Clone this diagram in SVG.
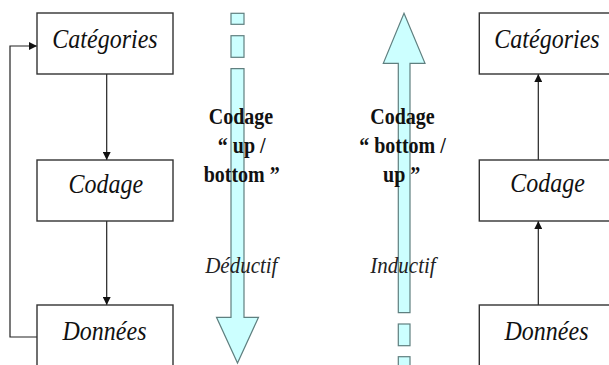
<svg xmlns="http://www.w3.org/2000/svg" width="609" height="365" viewBox="0 0 609 365">
<style>
.box{fill:#fff;stroke:#333;stroke-width:1.4}
text{font-family:'Liberation Serif','DejaVu Serif',serif}
.lbl{font-style:italic;font-size:24px;fill:#111;text-anchor:middle}
.bold{font-weight:bold;font-size:20px;fill:#111;text-anchor:middle}
.ital{font-style:italic;font-size:21px;fill:#222;text-anchor:middle}
.cyan{fill:#ccffff;stroke:#5f7f7f;stroke-width:1.2}
.line{fill:none;stroke:#222;stroke-width:1.2}
</style>
<defs>
<marker id="ah" markerWidth="8" markerHeight="8" refX="8" refY="4" orient="auto" markerUnits="userSpaceOnUse">
<path d="M0,0 L8,4 L0,8 Z" fill="#111"/>
</marker>
</defs>
<rect width="609" height="365" fill="#fff"/>
<g id="big-arrows">
<g id="down-arrow">
<rect class="cyan" x="231" y="13.3" width="13" height="11"/>
<rect class="cyan" x="231" y="35.7" width="13" height="21.6"/>
<path class="cyan" d="M231,68.7 H244 V317.3 H258.5 L237.5,363 L216.5,317.3 H231 Z"/>
</g>
<g id="up-arrow">
<path class="cyan" d="M404,13.3 L425,63.3 H410 V312.7 H398.3 V63.3 H383.3 Z"/>
<rect class="cyan" x="398.3" y="324" width="11.7" height="21.7"/>
<rect class="cyan" x="398.3" y="356.7" width="11.7" height="21.7"/>
</g>
</g>
<g id="connectors">
<line class="line" x1="106.7" y1="74" x2="106.7" y2="160" marker-end="url(#ah)"/>
<line class="line" x1="106.7" y1="221" x2="106.7" y2="305" marker-end="url(#ah)"/>
<polyline class="line" points="37,337 10,337 10,46 37,46" marker-end="url(#ah)"/>
<line class="line" x1="538.3" y1="305" x2="538.3" y2="221" marker-end="url(#ah)"/>
<line class="line" x1="538.3" y1="160" x2="538.3" y2="74" marker-end="url(#ah)"/>
</g>
<g id="left-categories">
<rect class="box" x="37" y="13" width="136" height="61"/>
<text class="lbl" font-family="Liberation Serif" transform="translate(105,47.7) scale(1,1.15)">Catégories</text>
</g>
<g id="left-codage">
<rect class="box" x="37" y="160" width="136" height="61"/>
<text class="lbl" font-family="Liberation Serif" transform="translate(105.8,192.7) scale(1,1.15)">Codage</text>
</g>
<g id="left-donnees">
<rect class="box" x="37" y="305" width="136" height="70"/>
<text class="lbl" font-family="Liberation Serif" transform="translate(104.5,340) scale(1,1.15)">Données</text>
</g>
<g id="right-categories">
<rect class="box" x="479.3" y="13" width="136" height="61"/>
<text class="lbl" font-family="Liberation Serif" transform="translate(547,47.7) scale(1,1.15)">Catégories</text>
</g>
<g id="right-codage">
<rect class="box" x="479.3" y="160" width="136" height="61"/>
<text class="lbl" font-family="Liberation Serif" transform="translate(547.5,191.7) scale(1,1.15)">Codage</text>
</g>
<g id="right-donnees">
<rect class="box" x="479.3" y="305" width="136" height="70"/>
<text class="lbl" font-family="Liberation Serif" transform="translate(546.5,340) scale(1,1.15)">Données</text>
</g>
<g id="label-topdown">
<text class="bold" font-family="Liberation Serif" transform="translate(241,124.3) scale(1,1.16)">Codage</text>
<text class="bold" font-family="Liberation Serif" transform="translate(241.7,152.5) scale(1,1.16)">“ up /</text>
<text class="bold" font-family="Liberation Serif" transform="translate(241.7,182.3) scale(1,1.16)">bottom ”</text>
<text class="ital" font-family="Liberation Serif" transform="translate(241.3,272.7) scale(1,1.14)">Déductif</text>
</g>
<g id="label-bottomup">
<text class="bold" font-family="Liberation Serif" transform="translate(402.5,124.3) scale(1,1.16)">Codage</text>
<text class="bold" font-family="Liberation Serif" transform="translate(402.5,152.5) scale(1,1.16)">“ bottom /</text>
<text class="bold" font-family="Liberation Serif" transform="translate(401.7,182.3) scale(1,1.16)">up ”</text>
<text class="ital" font-family="Liberation Serif" transform="translate(403,272.7) scale(1,1.14)">Inductif</text>
</g>
</svg>
